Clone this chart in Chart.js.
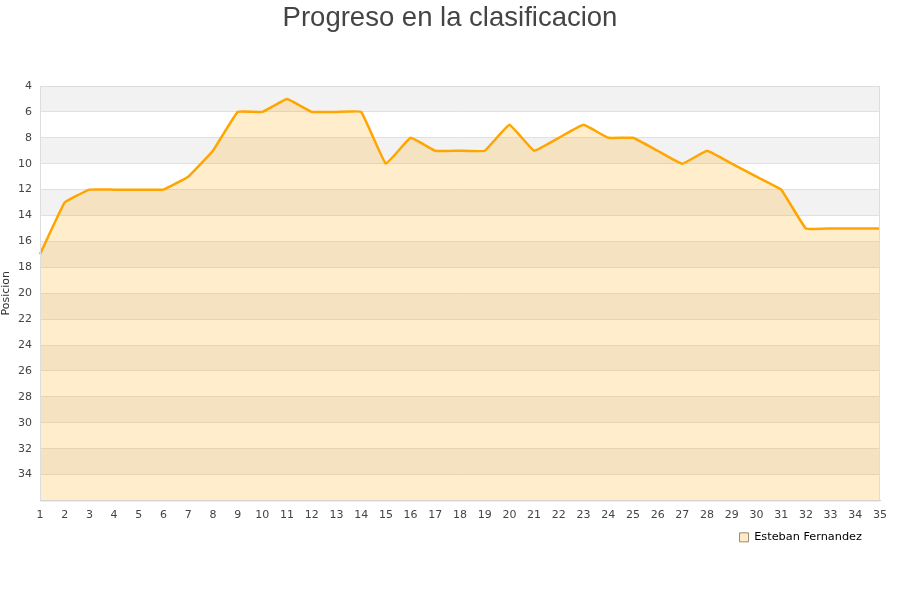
<!DOCTYPE html>
<html lang="es">
<head>
<meta charset="UTF-8">
<title>Progreso en la clasificacion</title>
<script src="https://cdn.jsdelivr.net/npm/chart.js"></script>
<style>
  body { margin: 0; background: #fff; }
  #wrap { width: 900px; height: 600px; }
</style>
</head>
<body>
<div id="wrap"><canvas id="myChart" width="900" height="600"></canvas></div>
<script>
// datos de la grafica
const jornadas = ['1','2','3','4','5','6','7','8','9','10','11','12','13','14','15','16','17','18',
                  '19','20','21','22','23','24','25','26','27','28','29','30','31','32','33','34','35'];
const posiciones = [17, 13, 12, 12, 12, 12, 11, 9, 6, 6, 5, 6, 6, 6, 10, 8, 9, 9,
                    9, 7, 9, 8, 7, 8, 8, 9, 10, 9, 10, 11, 12, 15, 15, 15, 15];
const jugador = 'Esteban Fernandez';
const titulo = 'Progreso en la clasificacion';

// bandas grises alternas detras del area + borde + titulo centrado
const bandas = {
    id: 'bandas',
    afterLayout(chart) {
        // mover la leyenda un poco (izquierda y abajo)
        const lg = chart.legend;
        lg.left -= 13; lg.right -= 13;
        lg.top += 5; lg.bottom += 5;
    },
    beforeDraw(chart) {
        const { ctx, chartArea, scales: { y } } = chart;
        ctx.save();
        ctx.fillStyle = '#f2f2f2';
        for (let v = 4; v < 36; v += 4) {
            const a = y.getPixelForValue(v);
            const b = y.getPixelForValue(v + 2);
            ctx.fillRect(chartArea.left, a, chartArea.right - chartArea.left, b - a);
        }
        // titulo
        ctx.fillStyle = '#444';
        ctx.font = '27.5px "Liberation Sans", Arial, sans-serif';
        ctx.textAlign = 'center';
        ctx.textBaseline = 'alphabetic';
        ctx.fillText(titulo, chart.width / 2, 26);
        ctx.restore();
    },
    afterDatasetsDraw(chart) {
        const { ctx, chartArea } = chart;
        ctx.save();
        ctx.strokeStyle = '#dddddd';
        ctx.lineWidth = 1;
        ctx.strokeRect(chartArea.left + 0.5, chartArea.top + 0.5,
                       chartArea.right - chartArea.left - 1, chartArea.bottom - chartArea.top);
        ctx.restore();
    }
};

const ctx = document.getElementById('myChart');
new Chart(ctx, {
    type: 'line',
    data: {
        labels: jornadas,
        datasets: [{
            label: jugador,
            data: posiciones,
            borderColor: '#ffa500',
            backgroundColor: 'rgba(255,165,0,0.2)',
            borderWidth: 2.5,
            pointRadius: 0,
            tension: 0.08,
            fill: 'start'
        }]
    },
    options: {
        responsive: false,
        animation: false,
        layout: { padding: { left: 0, right: 20, top: 86, bottom: 52 } },
        scales: {
            x: {
                offset: false,
                grid: { display: false },
                border: { color: '#cccccc' },
                ticks: { color: '#444', font: { family: 'DejaVu Sans', size: 11 }, maxRotation: 0, autoSkip: false, padding: 0 }
            },
            y: {
                reverse: true,
                min: 4,
                max: 36,
                afterFit: s => { s.width = 40; },
                grid: { color: '#e0e0e0', drawTicks: false },
                border: { color: '#cccccc' },
                ticks: {
                    stepSize: 2,
                    padding: 8,
                    color: '#444',
                    font: { family: 'DejaVu Sans', size: 11 },
                    callback: v => v === 36 ? '' : v
                },
                title: {
                    display: true,
                    text: 'Posicion',
                    color: '#333',
                    font: { family: 'DejaVu Sans', size: 11 },
                    padding: 0
                }
            }
        },
        plugins: {
            title: { display: false },
            legend: {
                position: 'bottom',
                align: 'end',
                labels: {
                    boxWidth: 9,
                    boxHeight: 9,
                    padding: 5,
                    color: '#222',
                    font: { family: 'DejaVu Sans', size: 11.3 },
                    generateLabels: chart => [{
                        text: jugador,
                        fillStyle: '#ffebc8',
                        strokeStyle: '#9a8a70',
                        lineWidth: 1,
                        datasetIndex: 0
                    }]
                }
            },
            tooltip: { enabled: false }
        }
    },
    plugins: [bandas]
});
</script>
</body>
</html>
